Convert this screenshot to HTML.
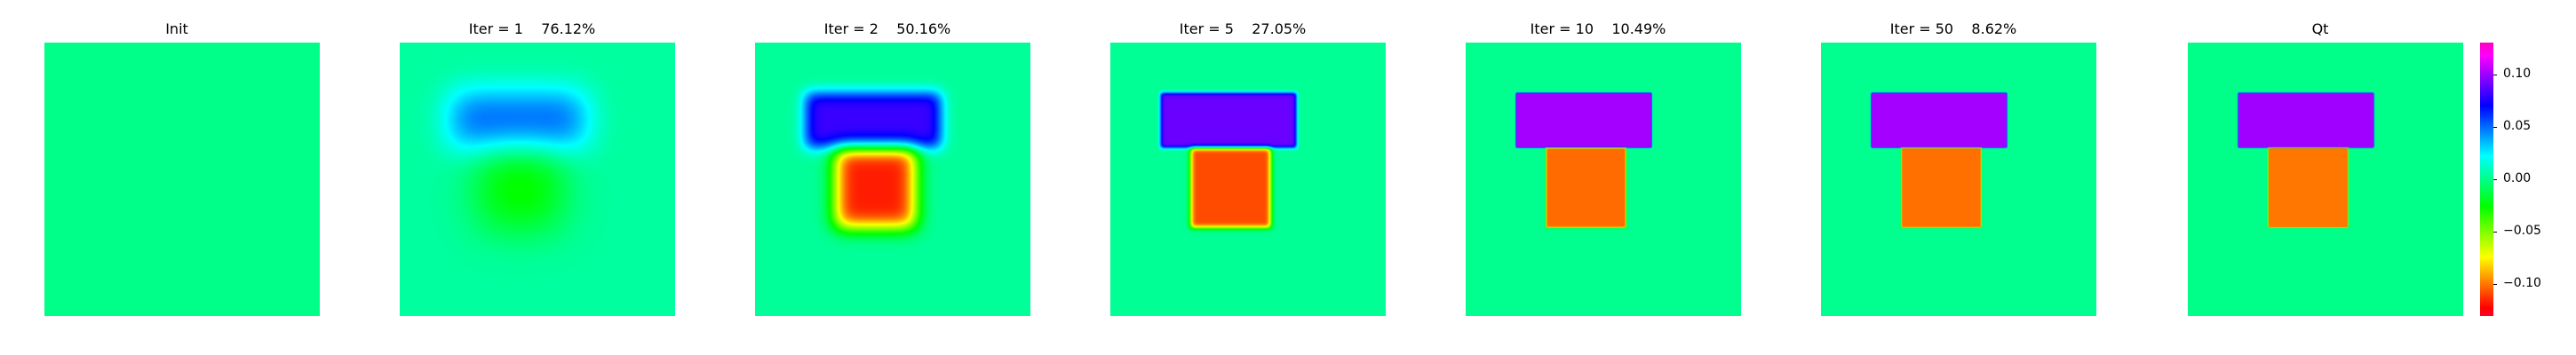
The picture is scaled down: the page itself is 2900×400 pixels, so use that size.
<!DOCTYPE html>
<html><head><meta charset="utf-8">
<style>
body{margin:0;background:#fff;width:2900px;height:400px;overflow:hidden;position:relative;font-family:"DejaVu Sans","Liberation Sans",sans-serif}
canvas{position:absolute}
.t{position:absolute;top:23px;font-size:16px;color:#000;text-align:center;width:310px;white-space:pre}
.tk{position:absolute;font-size:14px;color:#000}
.tm{position:absolute;width:4px;height:1px;background:#000}
</style></head><body>
<div id="root"></div>
<div id="cbar" style="position:absolute;left:2792px;top:48px;width:15px;height:308px"></div>
<script>
// chart data
const titles = ["Init","Iter = 1    76.12%","Iter = 2    50.16%","Iter = 5    27.05%","Iter = 10    10.49%","Iter = 50    8.62%","Qt"];
const bgVals = [0.0, 0.004, 0.003, 0.002, 0.001, 0.001, 0.0];
const topVals = [0.0, 0.05, 0.078, 0.088, 0.1, 0.1, 0.1];
const botVals = [0.0, -0.035, -0.12, -0.11, -0.103, -0.102, -0.1];
const blurs = [1, 26, 11, 3, 0.8, 0.6, 0.01];
const cbTicks = [0.10, 0.05, 0.00, -0.05, -0.10];
const vmin = -0.13, vmax = 0.13;

const panelLefts = [50,450,850,1250,1650,2050,2463];
const PW=310, PH=308, PT=48;
const stops=[[0,[255,0,41]],[0.03,[255,0,0]],[0.215,[255,255,0]],[0.4,[0,255,0]],[0.586,[0,255,255]],[0.77,[0,0,255]],[0.954,[255,0,255]],[1,[255,0,191]]];
function cmap(v){let f=(v-vmin)/(vmax-vmin);f=Math.max(0,Math.min(1,f));
 for(let i=1;i<stops.length;i++){if(f<=stops[i][0]){const a=stops[i-1],b=stops[i];const t=(f-a[0])/(b[0]-a[0]);return a[1].map((c,k)=>c+(b[1][k]-c)*t);}}
 return stops[stops.length-1][1];}
function erf(x){const s=Math.sign(x);x=Math.abs(x);const t=1/(1+0.3275911*x);
 const y=1-(((((1.061405429*t-1.453152027)*t)+1.421413741)*t-0.284496736)*t+0.254829592)*t*Math.exp(-x*x);return s*y;}
function box(x,a,b,s){return 0.5*(erf((x-a)/s)-erf((x-b)/s));}
// rectangle geometry relative to panel (pixels)
const topR=[56,209,56,118], botR=[90,180,118,208];
const root=document.getElementById('root');
titles.forEach((ttl,i)=>{
 const c=document.createElement('canvas');
 
 
 c.width=PW;c.height=PH;c.style.left=panelLefts[i]+'px';c.style.top=PT+'px';
 const ctx=c.getContext('2d');const img=ctx.createImageData(PW,PH);
 const s=blurs[i];
 for(let y=0;y<PH;y++){const ty=box(y,topR[2],topR[3],s),by=box(y,botR[2],botR[3],s*1.3);
  for(let x=0;x<PW;x++){
   const v=bgVals[i]+topVals[i]*box(x,topR[0],topR[1],s)*ty+botVals[i]*box(x,botR[0],botR[1],s*1.3)*by;
   const col=cmap(v);const p=(y*PW+x)*4;img.data[p]=col[0];img.data[p+1]=col[1];img.data[p+2]=col[2];img.data[p+3]=255;}}
 ctx.putImageData(img,0,0);root.appendChild(c);
 const t=document.createElement('div');t.className='t';
 
 
 t.style.left=(panelLefts[i]-6)+'px';t.textContent=ttl;root.appendChild(t);
});
// colorbar
const cb=document.createElement('canvas');


cb.width=15;cb.height=PH;cb.style.left='0px';cb.style.top='0px';
const cctx=cb.getContext('2d');
for(let y=0;y<PH;y++){const v=vmax-(vmax-vmin)*(y+0.5)/PH;const col=cmap(v);cctx.fillStyle=`rgb(${col[0]|0},${col[1]|0},${col[2]|0})`;cctx.fillRect(0,y,15,1);}
const cbar=document.getElementById('cbar');cbar.appendChild(cb);
cbTicks.forEach(v=>{
 const y=(vmax-v)/(vmax-vmin)*PH;
 const m=document.createElement('div');m.className='tm';
 
 
 m.style.left='15px';m.style.top=y+'px';cbar.appendChild(m);
 const l=document.createElement('div');l.className='tk';
 
 
 l.style.left='26px';l.style.top=(y-9)+'px';
 l.textContent=(v<0?'\u2212':'')+Math.abs(v).toFixed(2);cbar.appendChild(l);
});
</script>
</body></html>
